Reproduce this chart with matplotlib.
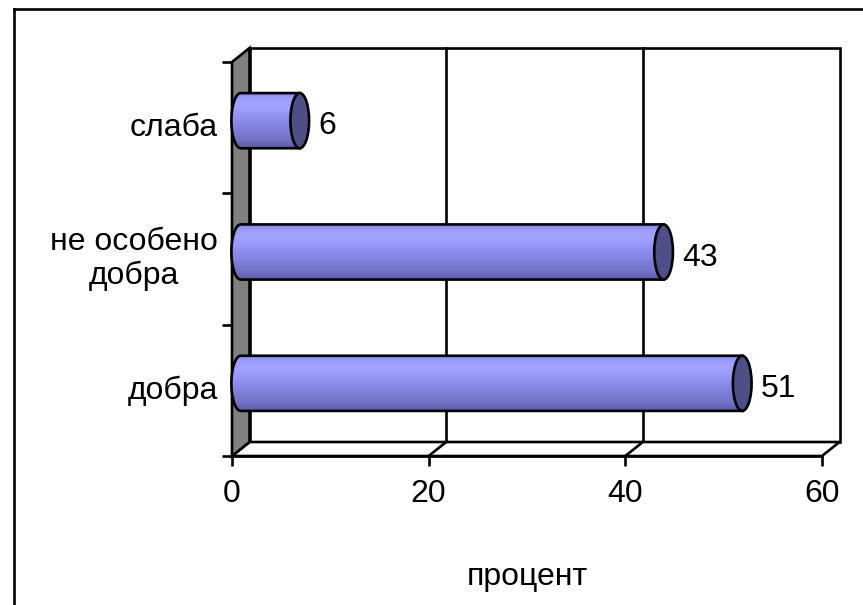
import numpy as np
import matplotlib
matplotlib.use("Agg")
import matplotlib.pyplot as plt
from matplotlib.patches import Polygon, Ellipse, PathPatch
from matplotlib.path import Path
from matplotlib.lines import Line2D
from matplotlib.colors import LinearSegmentedColormap

# ---- data ----
categories = ["добра", "не особено\nдобра", "слаба"]
values = [51, 43, 6]
xticks = [0, 20, 40, 60]
xlabel = "процент"

plt.rcParams['font.family'] = ['Liberation Sans', 'DejaVu Sans']
FS = 23

W, H = 863, 605
fig = plt.figure(figsize=(W / 100, H / 100), dpi=100)
fig.patch.set_facecolor("white")

# front plane of the 3D box
L, R, T, B = 232, 822, 62, 456
ax = fig.add_axes([L / W, 1 - B / H, (R - L) / W, (B - T) / H])
xmin, xmax = 0, 60
ymin, ymax = -0.5, len(categories) - 0.5
sx = (R - L) / (xmax - xmin)
sy = (B - T) / (ymax - ymin)
dx = 17.5 / sx   # depth offset in data units
dy = 14.0 / sy

LW = 1.9
EC = "black"

# back wall
ax.add_patch(Polygon([(xmin + dx, ymin + dy), (xmax + dx, ymin + dy),
                      (xmax + dx, ymax + dy), (xmin + dx, ymax + dy)],
                     closed=True, fc="white", ec=EC, lw=LW, clip_on=False, zorder=1))
# floor
ax.add_patch(Polygon([(xmin, ymin), (xmax, ymin), (xmax + dx, ymin + dy), (xmin + dx, ymin + dy)],
                     closed=True, fc="white", ec=EC, lw=LW, clip_on=False, zorder=1.5))
# gridlines on back wall and floor
for v in xticks[1:-1]:
    ax.plot([v + dx, v + dx], [ymin + dy, ymax + dy], color=EC, lw=LW, clip_on=False, zorder=1.2)
    ax.plot([v, v + dx], [ymin, ymin + dy], color=EC, lw=LW, clip_on=False, zorder=1.6)
# left side wall
ax.add_patch(Polygon([(xmin, ymin), (xmin, ymax), (xmin + dx, ymax + dy), (xmin + dx, ymin + dy)],
                     closed=True, fc="#808080", ec=EC, lw=LW, clip_on=False, zorder=2))

# cylinder gradient
cmap = LinearSegmentedColormap.from_list("cyl", [
    (0.0, "#5c5caa"), (0.15, "#7272c6"), (0.5, "#8c8cee"),
    (0.75, "#a2a2ff"), (0.9, "#9c9cfc"), (1.0, "#8686e0")])
grad = np.linspace(0, 1, 200).reshape(-1, 1)

hh = 0.21          # half height of cylinder in category units
ew = 1.9           # ellipse width in value units
t = np.linspace(np.pi / 2, 3 * np.pi / 2, 60)
for i, (cat, v) in enumerate(zip(categories, values)):
    yc = i + dy / 2
    x0 = xmin + dx / 2
    x1 = v + dx / 2
    pts = [(x0 + ew / 2 * np.cos(a), yc + hh * np.sin(a)) for a in t]
    pts += [(x1, yc - hh), (x1, yc + hh), pts[0]]
    body = PathPatch(Path(pts, closed=False), fc="none", ec=EC, lw=LW, clip_on=False, zorder=4)
    ax.add_patch(body)
    im = ax.imshow(grad, cmap=cmap, origin="lower", aspect="auto",
                   extent=[x0 - ew / 2, x1, yc - hh, yc + hh], zorder=3)
    im.set_clip_path(body)
    ax.add_patch(Ellipse((x1, yc), ew, 2 * hh, fc="#4f4f88", ec=EC, lw=LW, clip_on=False, zorder=5))
    # value label
    ax.text(v + dx + 1.0, i + 0.01, str(v), ha="left", va="center", fontsize=FS, zorder=6)
    # category label
    ax.text(xmin - 1.4, i, cat, ha="right", va="center", multialignment="center",
            fontsize=FS, linespacing=1.15, zorder=6)

ax.set_xlim(xmin, xmax)
ax.set_ylim(ymin, ymax)
for s in ax.spines.values():
    s.set_visible(False)
ax.patch.set_visible(False)
ax.set_xticks(xticks)
ax.set_xticklabels([str(v) for v in xticks], fontsize=FS)
ax.set_yticks(np.arange(ymin, ymax + 0.01, 1.0))
ax.set_yticklabels([])
ax.tick_params(axis="both", direction="out", length=7.5, width=LW, color=EC)
ax.tick_params(axis="x", pad=9)
ax.set_xlabel(xlabel, fontsize=FS, labelpad=38)
ax.plot([xmin, xmax], [ymin, ymin], color=EC, lw=LW, clip_on=False, zorder=2.5)

# outer chart frame: only left and top edges fall inside the image
fx, fy = 14 / W, 1 - 9 / H
fig.add_artist(Line2D([fx, fx], [0, fy], transform=fig.transFigure, color="black", lw=1.9))
fig.add_artist(Line2D([fx, 1], [fy, fy], transform=fig.transFigure, color="black", lw=1.9))

fig.savefig("out.png", dpi=100)
